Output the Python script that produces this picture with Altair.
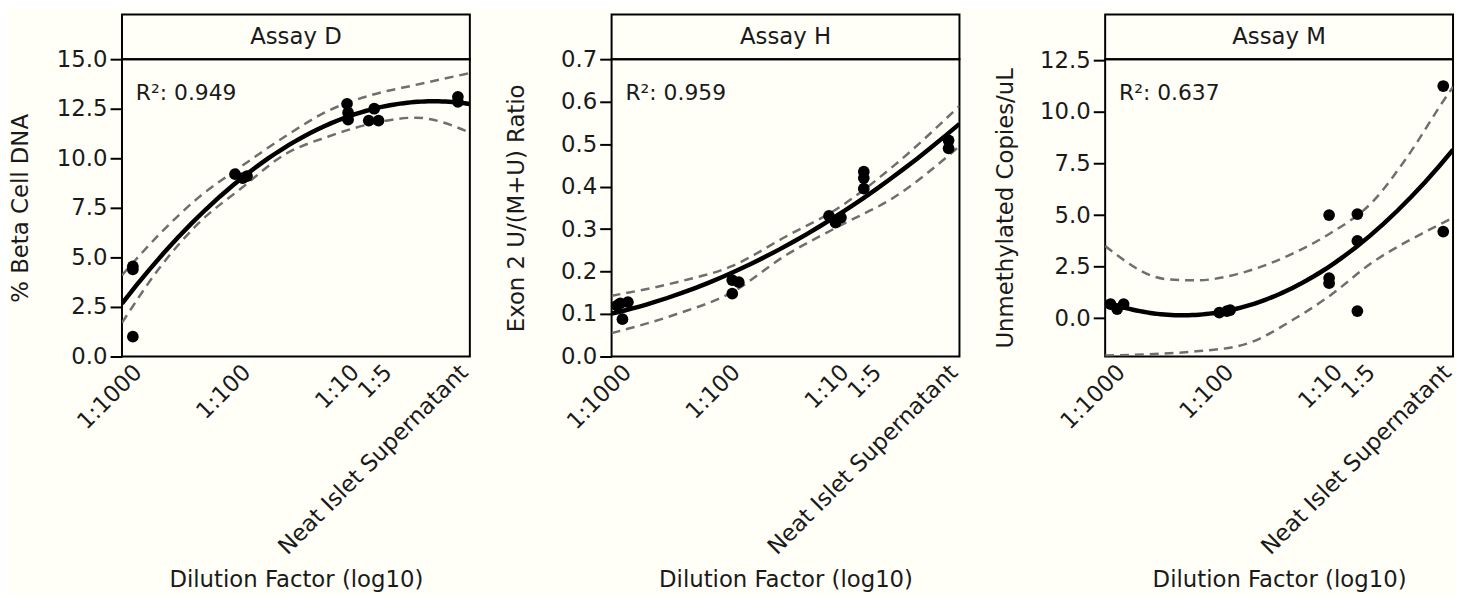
import altair as alt
import pandas as pd

FONT = "DejaVu Sans"
FS = 23
FS_R2 = 22
W, H, HH = 351, 300, 45
BG = "#fffff8"
TXT = "#1a1a1a"

# x tick positions (log10 dilution) and their labels
tick_values = [-3, -2, -1, -0.7, 0]
tick_labels = ["1:1000", "1:100", "1:10", "1:5", "Neat Islet Supernatant"]

# ---- Assay D ----
d_x = [-3.0, -3.0, -3.0, -2.06, -1.99, -1.95, -1.03, -1.02, -1.02, -0.83, -0.78, -0.74, -0.01, -0.01]
d_y = [4.55, 4.4, 1.0, 9.2, 9.0, 9.1, 12.75, 12.3, 11.95, 11.9, 12.5, 11.9, 13.1, 12.85]
d_band_x = [-3.1, -2.75, -2.4, -2.0, -1.6, -1.2, -0.8, -0.4, 0.1]
d_upper = [4.1, 6.2, 8.0, 9.6, 11.1, 12.4, 13.2, 13.7, 14.3]
d_lower = [1.7, 4.5, 6.7, 8.5, 10.2, 11.1, 11.75, 12.05, 11.3]

# ---- Assay H ----
h_x = [-3.05, -3.02, -2.95, -3.0, -1.99, -1.93, -1.99, -1.1, -1.04, -0.99, -0.78, -0.78, -0.78, 0.0, 0.0]
h_y = [0.12, 0.125, 0.128, 0.088, 0.18, 0.175, 0.148, 0.331, 0.315, 0.327, 0.435, 0.42, 0.395, 0.509, 0.49]
h_band_x = [-3.1, -2.5, -2.0, -1.5, -1.0, -0.5, 0.1]
h_upper = [0.143, 0.175, 0.212, 0.282, 0.352, 0.45, 0.59]
h_lower = [0.055, 0.10, 0.15, 0.238, 0.308, 0.375, 0.495]

# ---- Assay M ----
m_x = [-3.05, -2.99, -2.93, -2.05, -1.98, -1.95, -1.04, -1.04, -1.04, -0.78, -0.78, -0.78, 0.01, 0.01]
m_y = [0.69, 0.45, 0.69, 0.28, 0.35, 0.4, 5.0, 1.95, 1.7, 5.05, 3.75, 0.35, 11.25, 4.2]
m_upper_x = [-3.1, -2.54, -2.26, -1.81, -1.35, -1.05, -0.63, -0.33, 0.04, 0.1]
m_upper = [3.5, 1.9, 1.84, 2.25, 3.2, 4.05, 5.7, 7.75, 10.75, 11.2]
m_lower_x = [-3.1, -2.26, -1.81, -1.35, -1.05, -0.63, -0.33, -0.15, 0.1]
m_lower = [-1.8, -1.6, -1.25, 0.0, 1.03, 2.75, 3.7, 4.2, 4.87]

label_expr = " : ".join(
    f"abs(datum.value - ({v})) < 0.001 ? '{l}'" for v, l in zip(tick_values, tick_labels)
) + " : ''"


def make_panel(name, ytitle, xs, ys, ux, uy, lx, ly, ydom, yticks, r2, tpad, ext):
    pts = pd.DataFrame({"x": xs, "y": ys})
    bands = pd.DataFrame({
        "x": list(ux) + list(lx),
        "y": list(uy) + list(ly),
        "side": ["upper"] * len(ux) + ["lower"] * len(lx),
    })
    xsc = alt.Scale(domain=[-3.1, 0.1], nice=False, zero=False)
    ysc = alt.Scale(domain=ydom, nice=False, zero=False)
    xaxis = alt.Axis(
        values=tick_values, labelExpr=label_expr, labelAngle=-45, labelAlign="right",
        labelBaseline="middle", ticks=False, domain=False, grid=False,
        labelFontSize=FS, labelFont=FONT, labelColor=TXT, labelPadding=12, labelOffset=5,
        labelOverlap=False, labelFlush=False, labelLimit=600,
        title="Dilution Factor (log10)", titleFontSize=FS, titleFont=FONT,
        titleFontWeight="normal", titleColor=TXT, titlePadding=14,
    )
    yaxis = alt.Axis(
        values=yticks, format=".1f", tickSize=12, tickWidth=2, tickColor="black",
        domain=False, grid=False, labelFontSize=FS, labelFont=FONT, labelColor=TXT,
        labelPadding=3, title=ytitle, titleFontSize=FS, titleFont=FONT,
        titleFontWeight="normal", titleColor=TXT, titlePadding=tpad,
        minExtent=ext, maxExtent=ext,
    )
    X = alt.X("x:Q", scale=xsc, axis=xaxis)
    Y = alt.Y("y:Q", scale=ysc, axis=yaxis)

    band_layer = alt.Chart(bands).mark_line(
        strokeDash=[9, 6], color="#6f6f6f", strokeWidth=2.5, interpolate="monotone", clip=True
    ).encode(x=X, y=Y, detail="side:N")
    fit_layer = alt.Chart(pts).transform_regression(
        "x", "y", method="poly", order=2, extent=[-3.1, 0.1]
    ).mark_line(color="black", strokeWidth=4.5, clip=True).encode(x=X, y=Y)
    pt_layer = alt.Chart(pts).mark_circle(size=140, color="black", opacity=1).encode(x=X, y=Y)
    r2_layer = alt.Chart(pd.DataFrame({"t": [f"R\u00b2: {r2}"]})).mark_text(
        align="left", baseline="middle", fontSize=FS_R2, font=FONT, color=TXT
    ).encode(text="t:N", x=alt.value(14), y=alt.value(34))

    plot = alt.layer(band_layer, fit_layer, pt_layer, r2_layer).properties(width=W, height=H)
    header = alt.Chart(pd.DataFrame({"t": [name]})).mark_text(
        fontSize=FS, font=FONT, color=TXT, baseline="middle"
    ).encode(text="t:N", x=alt.value(W / 2), y=alt.value(HH / 2)).properties(width=W, height=HH)
    return alt.vconcat(header, plot, spacing=0, bounds="flush")


p1 = make_panel("Assay D", "% Beta Cell DNA", d_x, d_y, d_band_x, d_upper, d_band_x, d_lower,
                [0, 15], [0, 2.5, 5, 7.5, 10, 12.5, 15], "0.949", 25, 65)
p2 = make_panel("Assay H", "Exon 2 U/(M+U) Ratio", h_x, h_y, h_band_x, h_upper, h_band_x, h_lower,
                [0, 0.7], [0, 0.1, 0.2, 0.3, 0.4, 0.5, 0.6, 0.7], "0.959", 31, 53)
p3 = make_panel("Assay M", "Unmethylated Copies/uL", m_x, m_y, m_upper_x, m_upper, m_lower_x, m_lower,
                [-1.85, 12.55], [0, 2.5, 5, 7.5, 10, 12.5], "0.637", 23, 65)

chart = alt.hconcat(p1, p2, p3, spacing=30).configure(
    background=BG, font=FONT, padding={"left": 1, "top": 3, "right": 0, "bottom": 0}
).configure_view(stroke="black", strokeWidth=2)

chart.save("out.html", embed_options={"renderer": "svg", "actions": False})
